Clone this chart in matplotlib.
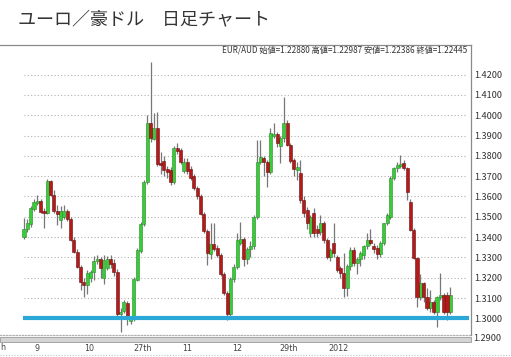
import matplotlib
matplotlib.use('Agg')
from matplotlib import pyplot as plt
from matplotlib.transforms import blended_transform_factory
from matplotlib.patches import Rectangle
from matplotlib.lines import Line2D

plt.rcParams['font.family'] = ['Noto Sans CJK JP', 'DejaVu Sans']

# 日足 OHLC (EUR/AUD)
opens = [1.3400, 1.3440, 1.3465, 1.3540, 1.3570, 1.3578, 1.3530, 1.3520, 1.3675, 1.3607,
         1.3528, 1.3484, 1.3500, 1.3530, 1.3490, 1.3386, 1.3328, 1.3255, 1.3181, 1.3165,
         1.3200, 1.3228, 1.3280, 1.3292, 1.3200, 1.3250, 1.3290, 1.3275, 1.3230, 1.3020,
         1.3035, 1.3075, 1.2985, 1.2995, 1.3190, 1.3330, 1.3465, 1.3670, 1.3960, 1.3885,
         1.3935, 1.3765, 1.3775, 1.3735, 1.3730, 1.3670, 1.3840, 1.3830, 1.3725, 1.3770,
         1.3735, 1.3700, 1.3640, 1.3600, 1.3515, 1.3430, 1.3315, 1.3365, 1.3345, 1.3310,
         1.3220, 1.3125, 1.3020, 1.3195, 1.3255, 1.3370, 1.3390, 1.3290, 1.3340, 1.3355,
         1.3500, 1.3770, 1.3790, 1.3770, 1.3720, 1.3900, 1.3910, 1.3850, 1.3890, 1.3960,
         1.3855, 1.3780, 1.3730, 1.3714, 1.3582, 1.3533, 1.3418, 1.3517, 1.3440, 1.3425,
         1.3468, 1.3386, 1.3304, 1.3370, 1.3304, 1.3250, 1.3222, 1.3150, 1.3260, 1.3337,
         1.3271, 1.3290, 1.3310, 1.3355, 1.3386, 1.3355, 1.3345, 1.3318, 1.3370, 1.3468,
         1.3500, 1.3690, 1.3740, 1.3750, 1.3763, 1.3738, 1.3574, 1.3435, 1.3295, 1.3106,
         1.3172, 1.3106, 1.3049, 1.3082, 1.3033, 1.3106, 1.3115, 1.3115, 1.3033]
highs = [1.3495, 1.3490, 1.3555, 1.3590, 1.3607, 1.3590, 1.3545, 1.3685, 1.3680, 1.3632,
         1.3558, 1.3555, 1.3560, 1.3540, 1.3500, 1.3400, 1.3340, 1.3265, 1.3200, 1.3240,
         1.3240, 1.3305, 1.3310, 1.3300, 1.3310, 1.3305, 1.3310, 1.3290, 1.3245, 1.3050,
         1.3090, 1.3085, 1.3010, 1.3205, 1.3345, 1.3475, 1.3680, 1.4000, 1.4264, 1.4010,
         1.4015, 1.3820, 1.3800, 1.3750, 1.3745, 1.3850, 1.3861, 1.3840, 1.3790, 1.3790,
         1.3750, 1.3710, 1.3650, 1.3610, 1.3525, 1.3440, 1.3468, 1.3470, 1.3360, 1.3320,
         1.3230, 1.3135, 1.3205, 1.3270, 1.3420, 1.3476, 1.3400, 1.3350, 1.3380, 1.3510,
         1.3878, 1.3880, 1.3800, 1.3780, 1.3935, 1.3960, 1.3920, 1.3900, 1.4090, 1.3975,
         1.3865, 1.3790, 1.3770, 1.3780, 1.3600, 1.3550, 1.3510, 1.3545, 1.3460, 1.3510,
         1.3480, 1.3395, 1.3345, 1.3470, 1.3310, 1.3260, 1.3320, 1.3270, 1.3350, 1.3350,
         1.3300, 1.3330, 1.3360, 1.3420, 1.3440, 1.3370, 1.3360, 1.3380, 1.3470, 1.3520,
         1.3700, 1.3745, 1.3770, 1.3805, 1.3780, 1.3745, 1.3590, 1.3445, 1.3300, 1.3220,
         1.3180, 1.3150, 1.3140, 1.3090, 1.3110, 1.3222, 1.3125, 1.3130, 1.3156]
lows = [1.3390, 1.3425, 1.3450, 1.3530, 1.3560, 1.3520, 1.3443, 1.3515, 1.3600, 1.3520,
        1.3460, 1.3443, 1.3490, 1.3480, 1.3380, 1.3320, 1.3250, 1.3140, 1.3107, 1.3120,
        1.3180, 1.3190, 1.3270, 1.3200, 1.3170, 1.3240, 1.3250, 1.3210, 1.3010, 1.2935,
        1.3025, 1.2967, 1.2970, 1.2985, 1.3185, 1.3320, 1.3455, 1.3660, 1.3870, 1.3880,
        1.3750, 1.3710, 1.3700, 1.3690, 1.3655, 1.3660, 1.3810, 1.3760, 1.3715, 1.3710,
        1.3680, 1.3630, 1.3590, 1.3510, 1.3420, 1.3262, 1.3290, 1.3330, 1.3300, 1.3210,
        1.3115, 1.2992, 1.3005, 1.3180, 1.3245, 1.3360, 1.3260, 1.3270, 1.3300, 1.3340,
        1.3490, 1.3760, 1.3700, 1.3648, 1.3710, 1.3890, 1.3845, 1.3763, 1.3870, 1.3850,
        1.3765, 1.3700, 1.3680, 1.3570, 1.3500, 1.3440, 1.3400, 1.3400, 1.3400, 1.3410,
        1.3370, 1.3290, 1.3280, 1.3300, 1.3230, 1.3200, 1.3107, 1.3110, 1.3240, 1.3260,
        1.3220, 1.3260, 1.3290, 1.3340, 1.3360, 1.3320, 1.3290, 1.3300, 1.3360, 1.3460,
        1.3490, 1.3680, 1.3720, 1.3740, 1.3730, 1.3583, 1.3430, 1.3290, 1.3057, 1.3090,
        1.3080, 1.3040, 1.3030, 1.3020, 1.2959, 1.3090, 1.3020, 1.2992, 1.3020]
closes = [1.3440, 1.3468, 1.3542, 1.3571, 1.3578, 1.3525, 1.3520, 1.3675, 1.3607, 1.3528,
          1.3515, 1.3530, 1.3530, 1.3490, 1.3386, 1.3328, 1.3255, 1.3181, 1.3165, 1.3225,
          1.3228, 1.3282, 1.3292, 1.3250, 1.3285, 1.3290, 1.3270, 1.3230, 1.3020, 1.3030,
          1.3080, 1.3005, 1.2995, 1.3195, 1.3335, 1.3465, 1.3672, 1.3960, 1.3890, 1.3935,
          1.3760, 1.3755, 1.3730, 1.3720, 1.3670, 1.3840, 1.3825, 1.3770, 1.3770, 1.3725,
          1.3690, 1.3640, 1.3600, 1.3515, 1.3430, 1.3320, 1.3365, 1.3340, 1.3310, 1.3220,
          1.3125, 1.3020, 1.3195, 1.3255, 1.3385, 1.3390, 1.3290, 1.3340, 1.3355, 1.3500,
          1.3771, 1.3796, 1.3771, 1.3722, 1.3911, 1.3910, 1.3862, 1.3890, 1.3960, 1.3855,
          1.3775, 1.3735, 1.3745, 1.3582, 1.3517, 1.3468, 1.3500, 1.3418, 1.3418, 1.3468,
          1.3386, 1.3304, 1.3337, 1.3320, 1.3238, 1.3222, 1.3148, 1.3260, 1.3337, 1.3271,
          1.3290, 1.3320, 1.3355, 1.3386, 1.3370, 1.3340, 1.3318, 1.3370, 1.3468, 1.3508,
          1.3690, 1.3740, 1.3755, 1.3762, 1.3738, 1.3623, 1.3435, 1.3295, 1.3106, 1.3172,
          1.3106, 1.3049, 1.3082, 1.3033, 1.3106, 1.3115, 1.3033, 1.3033, 1.3115]

support = 1.3000
y_ticks = [1.30, 1.31, 1.32, 1.33, 1.34, 1.35, 1.36, 1.37, 1.38, 1.39, 1.40, 1.41, 1.42]
x_label_pos = [4, 19.5, 35.5, 49, 64, 79.5, 94.5]
x_labels = ['9', '10', '27th', '11', '12', '29th', '2012']

title = 'ユーロ／豪ドル　日足チャート'
info = 'EUR/AUD 始値=1.22880 高値=1.22987 安値=1.22386 終値=1.22445'

fig = plt.figure(figsize=(5.11, 3.57), dpi=100)
ax = fig.add_axes([0.0, 0.0616, 0.9217, 0.8124])

n = len(closes)
xs = list(range(n))

# grid
ax.hlines(y_ticks[1:], 0, n + 4, colors='#b0b0b0', linestyles=(0, (1, 2)), lw=0.8, zorder=1)

# wicks
ax.vlines(xs, lows, highs, colors='#777777', lw=0.9, zorder=2)

# bodies
up_x, up_b, up_h, dn_x, dn_b, dn_h = [], [], [], [], [], []
for i in xs:
    o, c = opens[i], closes[i]
    h = max(abs(c - o), 0.0004)
    if c >= o:
        up_x.append(i); up_b.append(o); up_h.append(h)
    else:
        dn_x.append(i); dn_b.append(c); dn_h.append(h)
ax.bar(up_x, up_h, bottom=up_b, width=0.92, color='#38cc38', edgecolor='#2b8a2b', lw=0.4, zorder=3)
ax.bar(dn_x, dn_h, bottom=dn_b, width=0.92, color='#b41a1a', edgecolor='#6a1010', lw=0.4, zorder=3)

# support line
ax.hlines(support, -0.3, n + 4.5, colors='#2aa9d9', lw=3.0, zorder=4)

ax.set_xlim(-7.2, 134.2)
ax.set_ylim(1.2918, 1.4346)

ax.yaxis.tick_right()
ax.set_yticks(y_ticks)
ax.set_yticklabels(['%.4f' % v for v in y_ticks])
ax.tick_params(axis='y', length=0, pad=2.0, labelsize=6.6, colors='#333333')
ax.set_xticks([])

ax.spines['left'].set_visible(False)
ax.spines['top'].set_color('#8a8a8a')
ax.spines['right'].set_color('#8a8a8a')
ax.spines['bottom'].set_color('#b0b0b0')
ax.spines['bottom'].set_linestyle((0, (1, 1.5)))
for s in ['top', 'right', 'bottom']:
    ax.spines[s].set_linewidth(0.9)

trans = blended_transform_factory(ax.transData, ax.transAxes)
for p, lab in zip(x_label_pos, x_labels):
    ax.text(p, -0.048, lab, transform=trans, ha='center', va='center',
            fontsize=5.8, color='#444444', clip_on=False, family='DejaVu Sans')
# the label at the left edge shows only its last letter
fig.text(0.5 / 511, 1 - 348 / 357, 'h', fontsize=5.8, color='#444444', ha='left', va='center',
         family='DejaVu Sans')

fig.text(473 / 511, 1 - 338.5 / 357, '1.2900', fontsize=6.6, color='#333333', ha='left', va='center')

# scroll bar under the chart
fig.patches.append(Rectangle((0, 1 - 341.5 / 357), 471 / 511, 5 / 357, transform=fig.transFigure,
                             facecolor='#d4d4d4', edgecolor='#9a9a9a', lw=0.6, zorder=5))
fig.lines.append(Line2D([0, 1], [1 - 355 / 357] * 2, transform=fig.transFigure,
                        color='#c0c0c0', lw=0.8, ls=(0, (1, 1.5))))

ax.text(0.992, 0.982, info, transform=ax.transAxes, ha='right', va='center',
        fontsize=5.9, color='#333333')

fig.text(18 / 511, 1 - 19 / 357, title, fontsize=13, color='#333333', ha='left', va='center')

fig.savefig('out.png', dpi=100)
